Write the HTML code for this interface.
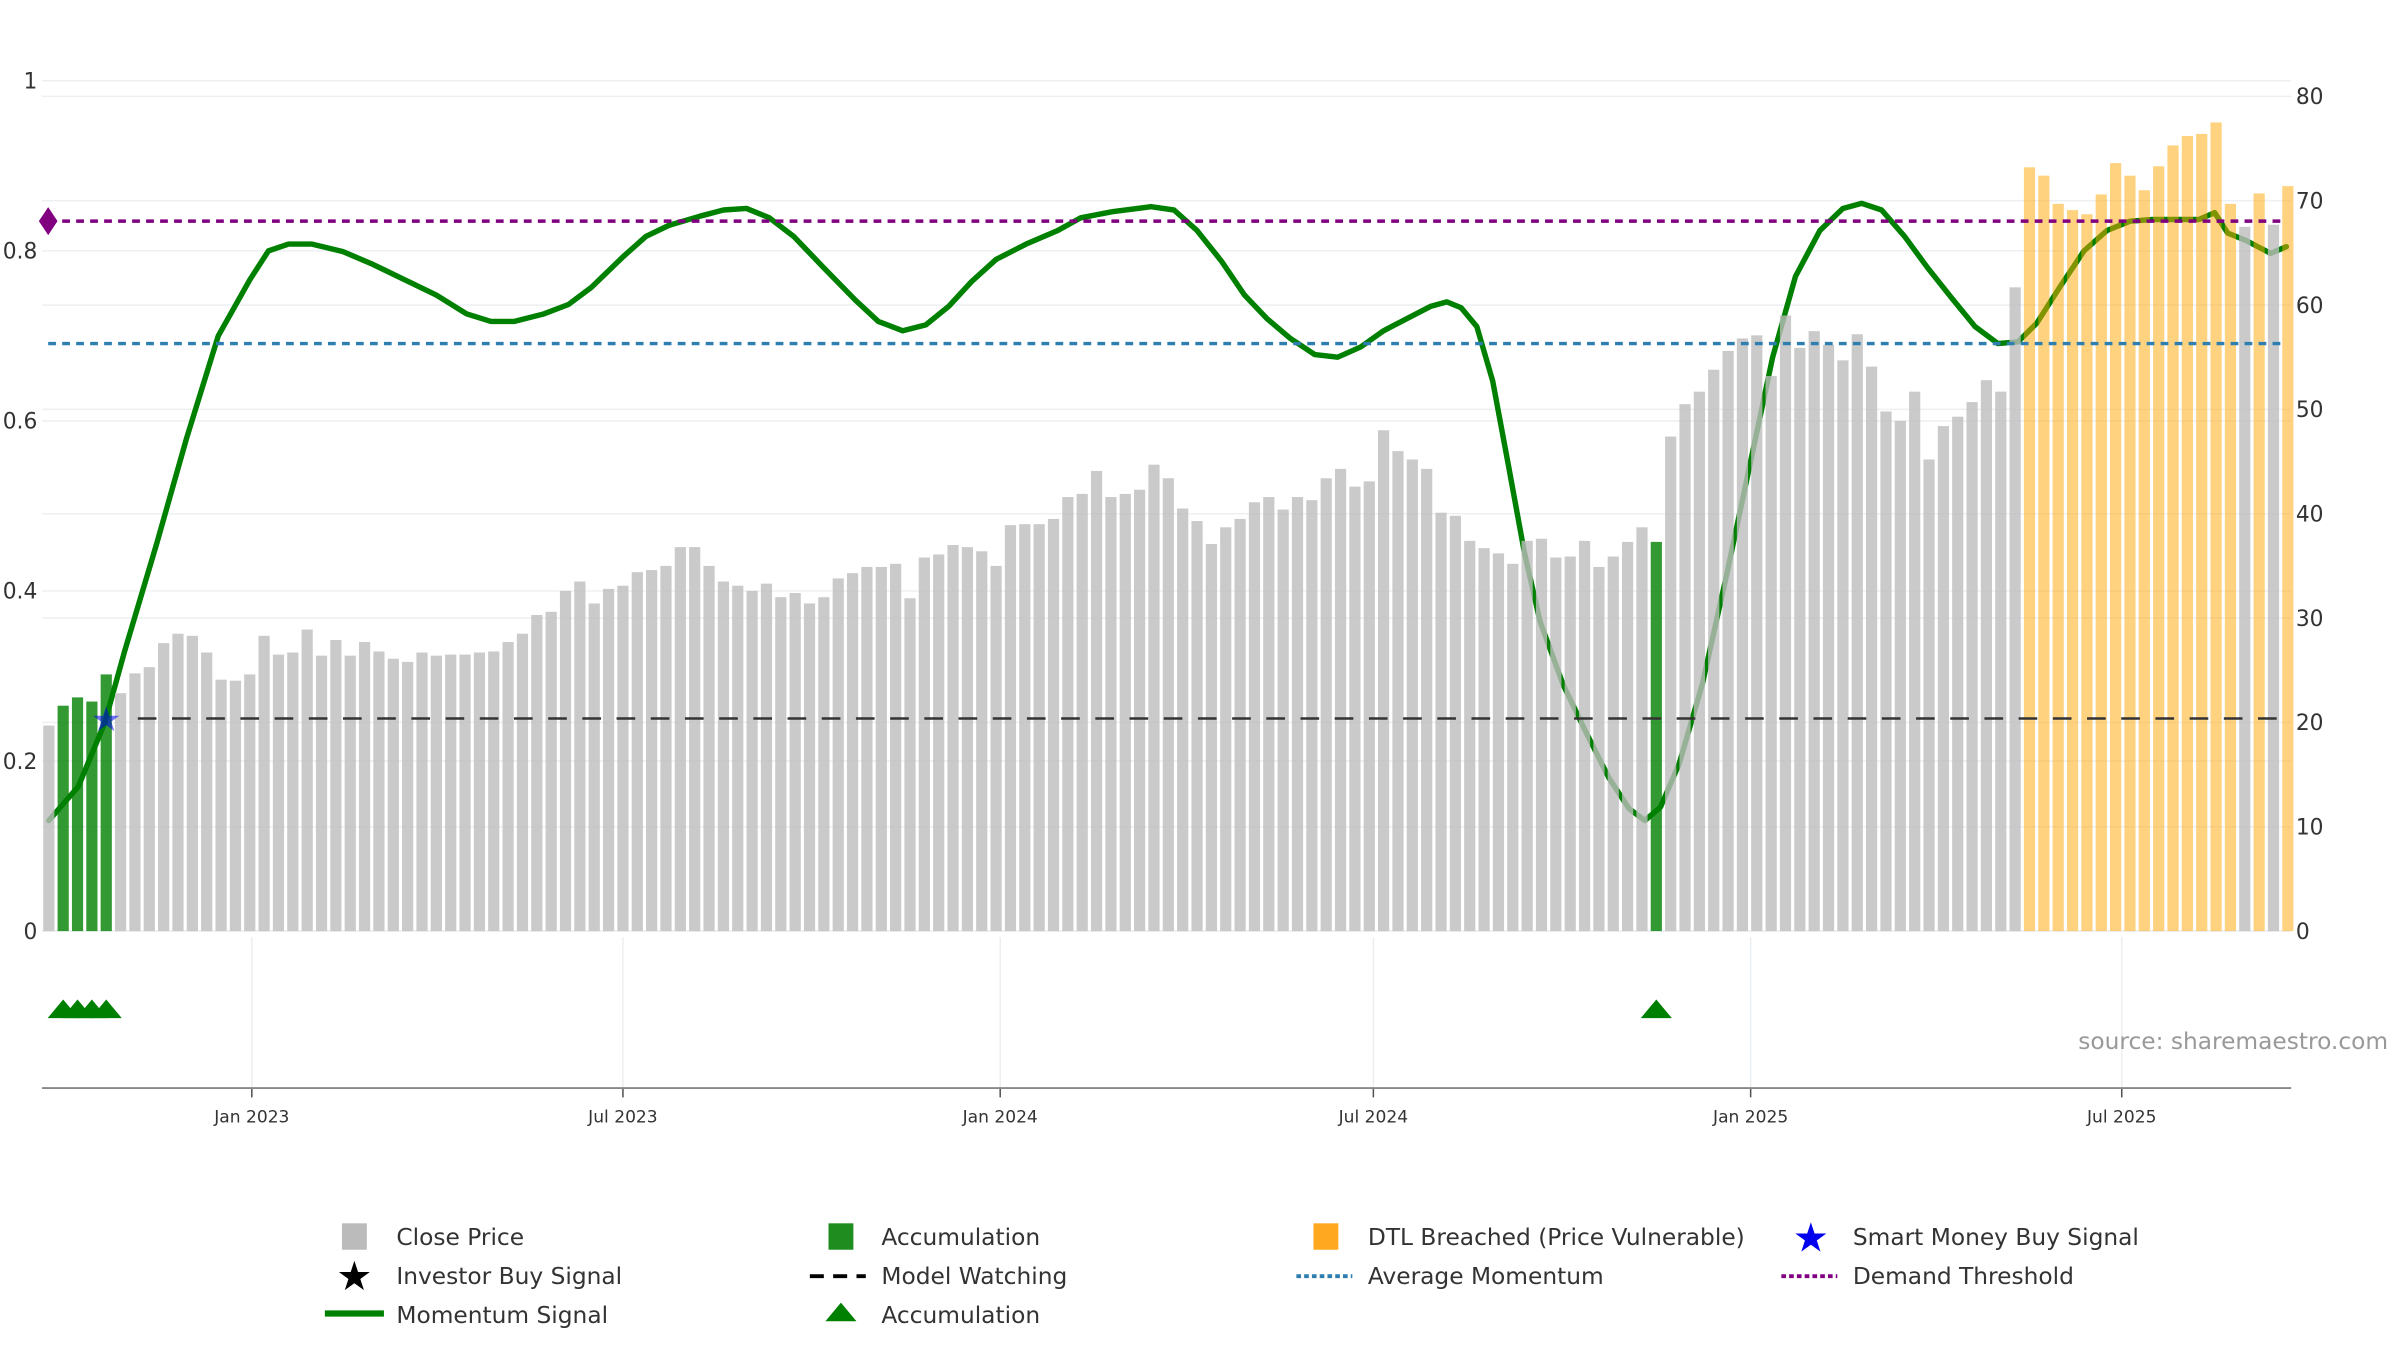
<!DOCTYPE html>
<html><head><meta charset="utf-8"><style>
html,body{margin:0;padding:0;background:#fff;width:2400px;height:1350px;overflow:hidden}
svg{display:block;font-family:"DejaVu Sans","Liberation Sans",sans-serif}
</style></head><body>
<svg id="chart" width="2400" height="1350" viewBox="0 0 1544 868.5" xmlns="http://www.w3.org/2000/svg">
<g id="grid"></g>
<g id="line-layer"></g>
<g id="bars"></g>
<g id="overlay"></g>
<g id="axes"></g>
<text x="1337" y="675" font-size="15" fill="#999">source: sharemaestro.com</text>
<g id="legend" font-size="15" fill="#333">
 <g><rect x="220" y="787" width="16" height="17" fill="#bbb"/><text x="255" y="801">Close Price</text></g>
 <g><rect x="533" y="787" width="16" height="17" fill="#1e8c1e"/><text x="567" y="801">Accumulation</text></g>
 <g><rect x="845" y="787" width="16" height="17" fill="#ffa820"/><text x="880" y="801">DTL Breached (Price Vulnerable)</text></g>
 <g><text x="1165" y="805" font-size="26" fill="#0000ee" text-anchor="middle">★</text><text x="1192" y="801">Smart Money Buy Signal</text></g>
 <g><text x="228" y="830" font-size="26" fill="#000" text-anchor="middle">★</text><text x="255" y="826">Investor Buy Signal</text></g>
 <g><line x1="521" y1="821" x2="557" y2="821" stroke="#000" stroke-width="2.5" stroke-dasharray="9,6"/><text x="567" y="826">Model Watching</text></g>
 <g><line x1="834" y1="821" x2="870" y2="821" stroke="#2e7fb0" stroke-width="2.5" stroke-dasharray="3,2"/><text x="880" y="826">Average Momentum</text></g>
 <g><line x1="1146" y1="821" x2="1182" y2="821" stroke="#800080" stroke-width="2.5" stroke-dasharray="3,2"/><text x="1192" y="826">Demand Threshold</text></g>
 <g><line x1="209" y1="845" x2="247" y2="845" stroke="#008000" stroke-width="4"/><text x="255" y="851">Momentum Signal</text></g>
 <g><path d="M531,850 L541,838 L551,850 Z" fill="#008000"/><text x="567" y="851">Accumulation</text></g>
</g>
</svg>
<script>
const NS='http://www.w3.org/2000/svg';
// ---- data ----
const startDate='2022-09-24';
const prices=[19.7,21.6,22.4,22,24.6,22.8,24.7,25.3,27.6,28.5,28.3,26.7,24.1,24,24.6,28.3,26.5,26.7,28.9,26.4,27.9,26.4,27.7,26.8,26.1,25.8,26.7,26.4,26.5,26.5,26.7,26.8,27.7,28.5,30.3,30.6,32.6,33.5,31.4,32.8,33.1,34.4,34.6,35,36.8,36.8,35,33.5,33.1,32.6,33.3,32,32.4,31.4,32,33.8,34.3,34.9,34.9,35.2,31.9,35.8,36.1,37,36.8,36.4,35,38.9,39,39,39.5,41.6,41.9,44.1,41.6,41.9,42.3,44.7,43.4,40.5,39.3,37.1,38.7,39.5,41.1,41.6,40.4,41.6,41.3,43.4,44.3,42.6,43.1,48,46,45.2,44.3,40.1,39.8,37.4,36.7,36.2,35.2,37.4,37.6,35.8,35.9,37.4,34.9,35.9,37.3,38.7,37.3,47.4,50.5,51.7,53.8,55.6,56.8,57.1,53.2,59,55.9,57.5,56.2,54.7,57.2,54.1,49.8,48.9,51.7,45.2,48.4,49.3,50.7,52.8,51.7,61.7,73.2,72.4,69.7,69.1,68.7,70.6,73.6,72.4,71,73.3,75.3,76.2,76.4,77.5,69.7,67.5,70.7,67.7,71.4];
const accumulationWeeks=[1,2,3,4,112];
const dtlWeeks=[138,139,140,141,142,143,144,145,146,147,148,149,150,151,152,154,156];
const momentumWeeks=[0,2.06,3.9,5.3,7.5,9.6,11.8,14,15.3,16.7,18.3,20.5,22.6,24.8,27,29.1,30.8,32.4,34.5,36.2,37.8,40,41.6,43.2,45.4,47,48.6,50.2,51.9,54,56.2,57.8,59.5,61.1,62.7,64.3,66,68.1,70.3,71.9,74.1,76.8,78.4,80,81.7,83.3,84.9,86.5,88.2,89.8,91.4,93,94.7,96.3,97.4,98.4,99.5,100.6,101.7,102.8,103.9,105.5,107.1,108.7,110.1,111.2,112.3,113.6,115.2,116.9,118.5,120.1,121.7,123.4,125,126.3,127.7,129.3,130.9,132.6,134.2,135.8,137.2,138.5,140.1,141.8,143.4,145,146.6,148.2,149.8,150.9,151.8,153.1,154.8,155.9];
const momentumValues=[0.13,0.17,0.245,0.33,0.455,0.58,0.70,0.766,0.80,0.808,0.808,0.799,0.784,0.766,0.748,0.726,0.717,0.717,0.726,0.737,0.757,0.793,0.817,0.830,0.841,0.848,0.850,0.839,0.817,0.78,0.742,0.717,0.706,0.713,0.735,0.764,0.79,0.808,0.824,0.839,0.846,0.852,0.848,0.824,0.788,0.748,0.720,0.697,0.678,0.675,0.687,0.706,0.721,0.735,0.740,0.733,0.711,0.647,0.547,0.446,0.364,0.29,0.234,0.18,0.144,0.13,0.146,0.197,0.29,0.419,0.547,0.675,0.77,0.824,0.850,0.856,0.848,0.817,0.78,0.744,0.711,0.691,0.693,0.715,0.757,0.80,0.824,0.835,0.837,0.837,0.837,0.845,0.821,0.812,0.797,0.805];
const demandThreshold=0.835, averageMomentum=0.691, modelWatching=0.25;
const smartMoneyWeeks=[4];
const leftTicks=[0,0.2,0.4,0.6,0.8,1];
const leftTickLabels=['0','0.2','0.4','0.6','0.8','1'];
const rightTicks=[0,10,20,30,40,50,60,70,80];
const dateTicks=['2023-01-01','2023-07-01','2024-01-01','2024-07-01','2025-01-01','2025-07-01'];
const dateTickLabels=['Jan 2023','Jul 2023','Jan 2024','Jul 2024','Jan 2025','Jul 2025'];
// ---- scales ----
const X0=27,X1=1474,Y0=599;
const DAY=86400000, t0=Date.parse('2023-01-01'), PXD=(1365-162)/((Date.parse('2025-07-01')-t0)/DAY);
const xDate=d=>162+(Date.parse(d)-t0)/DAY*PXD;
const xStart=xDate(startDate);
const xWeek=w=>xStart+w*7*PXD;
const yL=v=>Y0-v*547;
const yR=v=>Y0-v*(537/80);
function mk(tag,attrs,parent){const e=document.createElementNS(NS,tag);for(const k in attrs)e.setAttribute(k,attrs[k]);parent.appendChild(e);return e;}
const grid=document.getElementById('grid'),bars=document.getElementById('bars'),ov=document.getElementById('overlay'),axes=document.getElementById('axes'),ll=document.getElementById('line-layer');
leftTicks.forEach((v,i)=>{
  const g=mk('line',{x1:X0,x2:X1,y1:yL(v),y2:yL(v),stroke:'#edf0f3','stroke-width':1},grid);
  
  
  const t=mk('text',{x:24,y:yL(v)+5,'font-size':14,fill:'#333','text-anchor':'end'},axes);t.textContent=leftTickLabels[i];
  
  
});
rightTicks.forEach(v=>{
  const g=mk('line',{x1:X0,x2:X1,y1:yR(v),y2:yR(v),stroke:'#edf0f3','stroke-width':1},grid);
  
  
  const t=mk('text',{x:1477,y:yR(v)+5,'font-size':14,fill:'#333'},axes);t.textContent=String(v);
  
  
});
dateTicks.forEach((d,i)=>{
  const x=xDate(d);
  const g=mk('line',{x1:x,x2:x,y1:603,y2:700,stroke:'#eceff2','stroke-width':1},grid);
  
  
  mk('line',{x1:x,x2:x,y1:700,y2:706,stroke:'#555','stroke-width':1},axes);
  const t=mk('text',{x:x,y:722,'font-size':11,fill:'#333','text-anchor':'middle'},axes);t.textContent=dateTickLabels[i];
  
  
});
const ax=mk('line',{x1:X0,x2:X1,y1:700,y2:700,stroke:'#888','stroke-width':1.2},axes);


const pts=momentumWeeks.map((w,i)=>xWeek(w).toFixed(1)+','+yL(momentumValues[i]).toFixed(1)).join(' ');
const ml=mk('polyline',{points:pts,fill:'none',stroke:'#008000','stroke-width':3.5,'stroke-linejoin':'round','stroke-linecap':'round'},ll);


prices.forEach((p,i)=>{
  let fill='#bdbdbd',op=0.8,name='close-price-bar';
  if(accumulationWeeks.includes(i)){fill='#008000';op=0.8;name='accumulation-bar';}
  else if(dtlWeeks.includes(i)){fill='#ffa500';op=0.5;name='dtl-breached-bar';}
  const x=xWeek(i);
  const b=mk('rect',{x:(x-3.6).toFixed(2),y:yR(p).toFixed(2),width:7.2,height:(Y0-yR(p)).toFixed(2),fill:fill,'fill-opacity':op},bars);
  
  
});
const hl=(v,col,dash,name,x1,w)=>{const l=mk('line',{x1:x1,x2:1470,y1:yL(v),y2:yL(v),stroke:col,'stroke-width':w,'stroke-dasharray':dash},ov);
  
  };
hl(demandThreshold,'#800080','5,4','demand-threshold-line',31,2.2);
hl(averageMomentum,'#2e7fb0','5,4','average-momentum-line',31,2.2);
hl(modelWatching,'#333','12,10','model-watching-line',xWeek(6.2),1.6);
const dm=mk('path',{d:`M${X0-2},${yL(demandThreshold)} l6,-9 l6,9 l-6,9 Z`,fill:'#800080'},ov);


smartMoneyWeeks.forEach(w=>{
  const s=mk('text',{x:xWeek(w),y:yL(modelWatching)+8,'font-size':22,fill:'#0000ee','fill-opacity':0.55,'text-anchor':'middle'},ov);s.textContent='★';
  
  
});
accumulationWeeks.forEach(w=>{
  const x=xWeek(w);
  const t=mk('path',{d:`M${x-10},655 L${x},643 L${x+10},655 Z`,fill:'#008000'},ov);
  
  
});
</script>
</body></html>
